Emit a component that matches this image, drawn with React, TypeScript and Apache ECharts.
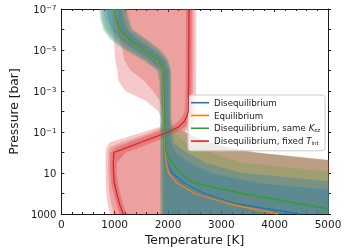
import React, { useEffect, useRef } from "react";
import * as echarts from "echarts";

// log10 of pressure [bar] for each profile level
const pressureExponent = [-7, -6.5, -6, -5.5, -5, -4.5, -4, -3.5, -3, -2.5, -2, -1.75, -1.5, -1.25, -1, -0.75, -0.5, -0.25, 0, 0.5, 1, 1.5, 2, 2.5, 3];

// median temperature profiles [K]
const tDiseq = [985, 1015, 1075, 1255, 1530, 1800, 1905, 1912, 1915, 1918, 1920, 1922, 1924, 1926, 1930, 1933, 1937, 1942, 1950, 1985, 2080, 2310, 2680, 3280, 4460];
const tEquil = [985, 1015, 1075, 1255, 1530, 1800, 1905, 1912, 1915, 1918, 1920, 1922, 1924, 1926, 1930, 1933, 1937, 1942, 1948, 1972, 2010, 2170, 2500, 3130, 4060];
const tSameKzz = [995, 1025, 1088, 1268, 1545, 1815, 1918, 1925, 1928, 1930, 1932, 1934, 1936, 1938, 1942, 1946, 1950, 1956, 1965, 2070, 2230, 2500, 3400, 4450, 5600];
const tFixedTint = [2392, 2392, 2392, 2391, 2390, 2389, 2388, 2387, 2385, 2382, 2378, 2355, 2300, 2200, 2010, 1750, 1495, 1240, 985, 975, 978, 995, 1040, 1090, 1160];

// uncertainty envelopes [K]
const fixedTintOuterLo = [960, 960, 970, 985, 1000, 1010, 1050, 1070, 1200, 1600, 1820, 1870, 1880, 1845, 1534, 1223, 912, 845, 830, 828, 830, 835, 845, 865, 920];
const fixedTintOuterHi = [2530, 2530, 2530, 2530, 2530, 2530, 2530, 2528, 2525, 2522, 2515, 2505, 2490, 2440, 2350, 2520, 2780, 3150, 3660, 5500, 8000, 8000, 8000, 8000, 8000];
const fixedTintMainLo = [1050, 1050, 1060, 1100, 1150, 1180, 1300, 1550, 1720, 1850, 1900, 1910, 1915, 1900, 1700, 1420, 1130, 905, 880, 875, 878, 888, 905, 935, 990];
const fixedTintMainHi = [2480, 2480, 2480, 2480, 2480, 2480, 2480, 2478, 2475, 2472, 2465, 2450, 2420, 2360, 2300, 2480, 2740, 3100, 3600, 5400, 8000, 8000, 8000, 8000, 8000];
const fixedTintCoreLo = [2337, 2337, 2337, 2336, 2335, 2334, 2333, 2332, 2330, 2322, 2310, 2270, 2190, 2050, 1800, 1530, 1270, 1020, 920, 915, 920, 935, 980, 1030, 1095];
const fixedTintCoreHi = [2447, 2447, 2447, 2446, 2445, 2444, 2443, 2442, 2440, 2437, 2435, 2420, 2385, 2320, 2180, 1960, 1720, 1470, 1210, 1040, 1040, 1060, 1105, 1155, 1225];

const equilLo = [780, 800, 850, 1000, 1270, 1600, 1840, 1860, 1865, 1868, 1870, 1870, 1870, 1872, 1875, 1877, 1880, 1880, 1880, 1882, 1885, 1887, 1890, 1892, 1895];
const equilHi = [1180, 1215, 1280, 1540, 1790, 1975, 2040, 2045, 2045, 2045, 2045, 2047, 2050, 2055, 2060, 2070, 2080, 2100, 2120, 2250, 2500, 3000, 4200, 6000, 8000];

const sameKzzOuterLo = [710, 730, 780, 920, 1180, 1520, 1790, 1830, 1840, 1842, 1845, 1845, 1845, 1848, 1850, 1850, 1850, 1850, 1850, 1850, 1850, 1850, 1850, 1852, 1855];
const sameKzzOuterHi = [1240, 1280, 1340, 1620, 1870, 2010, 2060, 2065, 2065, 2065, 2065, 2068, 2075, 2100, 2310, 2520, 2780, 3150, 3660, 5500, 8000, 8000, 8000, 8000, 8000];
const sameKzzInnerLo = [800, 825, 880, 1050, 1320, 1640, 1860, 1870, 1875, 1878, 1880, 1880, 1880, 1882, 1885, 1888, 1890, 1890, 1892, 1895, 1895, 1897, 1900, 1900, 1900];
const sameKzzInnerHi = [1160, 1195, 1260, 1500, 1760, 1960, 2030, 2035, 2035, 2035, 2035, 2038, 2045, 2070, 2100, 2200, 2320, 2520, 2800, 3400, 5300, 8000, 8000, 8000, 8000];

const diseqOuterLo = [740, 760, 815, 970, 1230, 1570, 1820, 1850, 1855, 1858, 1860, 1860, 1860, 1862, 1865, 1865, 1865, 1865, 1865, 1865, 1865, 1866, 1868, 1870, 1872];
const diseqOuterHi = [1210, 1245, 1310, 1580, 1830, 1990, 2045, 2050, 2050, 2050, 2050, 2052, 2058, 2070, 2080, 2090, 2100, 2220, 2350, 2700, 3400, 5400, 8000, 8000, 8000];
const diseqInnerLo = [850, 880, 940, 1120, 1390, 1690, 1875, 1885, 1888, 1890, 1892, 1893, 1895, 1897, 1900, 1902, 1905, 1905, 1908, 1910, 1912, 1915, 1918, 1920, 1920];
const diseqInnerHi = [1120, 1150, 1215, 1420, 1700, 1920, 2010, 2015, 2015, 2015, 2015, 2017, 2020, 2025, 2030, 2040, 2055, 2090, 2150, 2400, 2800, 3700, 5800, 8000, 8000];

const seriesNames = ["Disequilibrium", "Equilibrium", "Disequilibrium, same Kzz", "Disequilibrium, fixed Tint"];
const legendLabels = ["Disequilibrium", "Equilibrium", "Disequilibrium, same {it|K}{sub|zz}", "Disequilibrium, fixed {it|T}{sub|int}"];
const xTicks = [0, 5000, 1000];
const yTicks = [-7, 3, 1];

const BLUE = "#1f77b4";
const ORANGE = "#ff7f0e";
const GREEN = "#2ca02c";
const RED = "#d62728";
const FONT = "DejaVu Sans";
const INK = "#1a1a1a";

export default function App() {
  const ref = useRef<HTMLDivElement>(null);
  useEffect(() => {
    const chart = echarts.init(ref.current!, null, { renderer: "svg" });

    const band = (lo: number[], hi: number[], fill: string) => ({
      type: "custom",
      coordinateSystem: "cartesian2d",
      clip: true,
      silent: true,
      z: 1,
      data: [[lo[0], pressureExponent[0]]],
      renderItem: (_p: any, api: any) => {
        const pts: number[][] = [];
        for (let i = 0; i < lo.length; i++) pts.push(api.coord([lo[i], pressureExponent[i]]));
        for (let i = hi.length - 1; i >= 0; i--) pts.push(api.coord([hi[i], pressureExponent[i]]));
        return { type: "polygon", shape: { points: pts }, style: { fill } };
      },
    });

    const line = (name: string, temps: number[], color: string) => ({
      type: "line",
      name,
      data: temps.map((t, i) => [t, pressureExponent[i]]),
      showSymbol: false,
      symbol: "none",
      clip: true,
      z: 5,
      lineStyle: { color, width: 1.3 },
      itemStyle: { color },
    });

    const yLabel = (v: number) => {
      const n = Math.round(v);
      if (Math.abs(v - n) > 1e-6 || Math.abs(n % 2) !== 1) return "";
      if (n >= 0) return String(Math.pow(10, n));
      return "10{sup|\u2212" + -n + "}";
    };

    const axisLineStyle = { onZero: false, lineStyle: { color: INK, width: 1 } };

    chart.setOption({
      animation: false,
      grid: { left: 53, top: 9, right: 20, bottom: 37 },
      xAxis: [
        {
          type: "value",
          min: xTicks[0],
          max: xTicks[1],
          interval: xTicks[2],
          name: "Temperature [K]",
          nameLocation: "middle",
          nameGap: 18,
          nameTextStyle: { fontFamily: FONT, fontSize: 12.3, color: INK },
          axisLine: axisLineStyle,
          axisTick: { inside: true, length: 3, lineStyle: { color: INK } },
          minorTick: { show: true, splitNumber: 5, length: 2, lineStyle: { color: INK } },
          axisLabel: { fontFamily: FONT, fontSize: 10.5, color: INK, margin: 4, formatter: (v: number) => String(v) },
          splitLine: { show: false },
        },
        {
          type: "value",
          position: "top",
          min: xTicks[0],
          max: xTicks[1],
          interval: xTicks[2],
          axisLine: axisLineStyle,
          axisTick: { inside: true, length: 3, lineStyle: { color: INK } },
          minorTick: { show: true, splitNumber: 5, length: 2, lineStyle: { color: INK } },
          axisLabel: { show: false },
          splitLine: { show: false },
        },
      ],
      yAxis: [
        {
          type: "value",
          inverse: true,
          min: yTicks[0],
          max: yTicks[1],
          interval: yTicks[2],
          name: "Pressure [bar]",
          nameLocation: "middle",
          nameGap: 37,
          nameTextStyle: { fontFamily: FONT, fontSize: 12.3, color: INK },
          axisLine: axisLineStyle,
          axisTick: { inside: true, length: 3, lineStyle: { color: INK } },
          axisLabel: {
            fontFamily: FONT,
            fontSize: 10,
            color: INK,
            margin: 5,
            formatter: yLabel,
            rich: { sup: { fontFamily: FONT, fontSize: 7, color: INK, verticalAlign: "top", lineHeight: 7 } },
          },
          splitLine: { show: false },
        },
        {
          type: "value",
          position: "right",
          inverse: true,
          min: yTicks[0],
          max: yTicks[1],
          interval: yTicks[2],
          axisLine: axisLineStyle,
          axisTick: { inside: false, length: 3, lineStyle: { color: INK } },
          axisLabel: { show: false },
          splitLine: { show: false },
        },
      ],
      legend: {
        data: seriesNames,
        orient: "vertical",
        left: 188,
        top: 95,
        icon: "rect",
        itemWidth: 18,
        itemHeight: 1.6,
        itemGap: 3.4,
        padding: [3, 5, 5, 3],
        backgroundColor: "rgba(255,255,255,0.8)",
        borderColor: "#cccccc",
        borderWidth: 1,
        borderRadius: 3,
        formatter: (name: string) => legendLabels[seriesNames.indexOf(name)],
        textStyle: {
          fontFamily: FONT,
          fontSize: 8.7,
          color: INK,
          lineHeight: 9.4,
          rich: {
            it: { fontFamily: FONT, fontSize: 8.7, fontStyle: "italic", color: INK },
            sub: { fontFamily: FONT, fontSize: 5.5, color: INK, verticalAlign: "bottom", lineHeight: 5 },
          },
        },
      },
      series: [
        band(fixedTintOuterLo, fixedTintOuterHi, "rgba(214,39,40,0.25)"),
        band(fixedTintMainLo, fixedTintMainHi, "rgba(214,39,40,0.25)"),
        band(fixedTintCoreLo, fixedTintCoreHi, "rgba(214,39,40,0.3)"),
        band(equilLo, equilHi, "rgba(255,127,14,0.12)"),
        band(sameKzzOuterLo, sameKzzOuterHi, "rgba(44,160,44,0.25)"),
        band(sameKzzInnerLo, sameKzzInnerHi, "rgba(44,160,44,0.2)"),
        band(diseqOuterLo, diseqOuterHi, "rgba(31,119,180,0.3)"),
        band(diseqInnerLo, diseqInnerHi, "rgba(31,119,180,0.3)"),
        line(seriesNames[0], tDiseq, BLUE),
        line(seriesNames[1], tEquil, ORANGE),
        line(seriesNames[2], tSameKzz, GREEN),
        line(seriesNames[3], tFixedTint, RED),
      ],
    });
    return () => chart.dispose();
  }, []);
  return <div ref={ref} style={{ position: "fixed", left: 0, top: 0, width: 348, height: 251 }} />;
}
